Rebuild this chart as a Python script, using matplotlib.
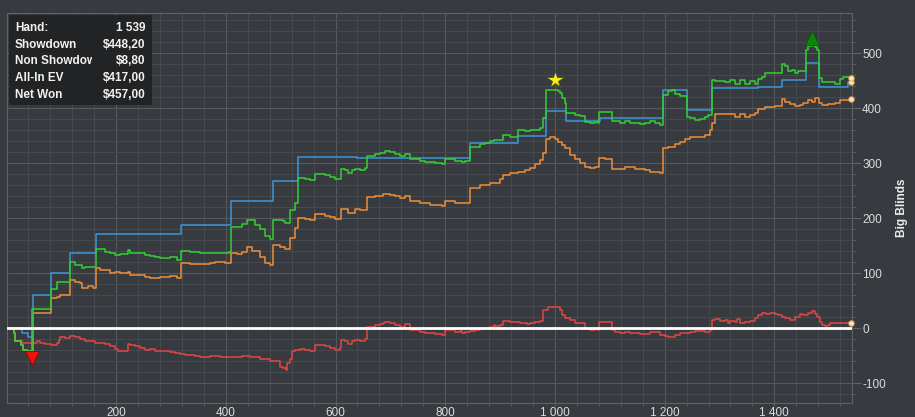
import matplotlib.pyplot as plt
import matplotlib.ticker as mticker
import matplotlib.transforms as mtransforms
from matplotlib.patches import Rectangle
import numpy as np

# cumulative results per hand (value holds until next hand)
net_won_hands = [0, 14, 16, 27, 31, 38, 47, 81, 92, 115, 125, 138, 143, 164, 171,
                 180, 189, 198, 207, 222, 226, 253, 262, 271, 280, 298, 311, 319,
                 335, 353, 380, 406, 410, 421, 430, 439, 453, 463, 472, 481, 486,
                 504, 508, 517, 526, 532, 545, 554, 563, 572, 581, 590, 599, 610,
                 618, 623, 630, 636, 645, 654, 658, 672, 681, 690, 700, 709, 718,
                 727, 736, 745, 754, 763, 773, 782, 794, 800, 818, 831, 836, 845,
                 864, 873, 882, 888, 900, 906, 918, 933, 946, 955, 964, 973, 979,
                 983, 991, 1000, 1006, 1010, 1013, 1019, 1020, 1028, 1037, 1046,
                 1055, 1064, 1073, 1079, 1081, 1092, 1104, 1119, 1128, 1137, 1146,
                 1155, 1164, 1174, 1183, 1192, 1197, 1206, 1214, 1219, 1228, 1240,
                 1247, 1256, 1265, 1274, 1279, 1287, 1292, 1310, 1319, 1329, 1338,
                 1347, 1356, 1365, 1370, 1378, 1383, 1392, 1414, 1420, 1425, 1433,
                 1438, 1444, 1458, 1462, 1469, 1474, 1478, 1481, 1487, 1493, 1502,
                 1511, 1520, 1525, 1539]
net_won_bb = [0, -8, -24, -30, -39, -42, 35, 71, 85, 121, 115, 110, 112, 145, 144,
              139, 136, 133, 135, 142, 136, 133, 131, 129, 127, 130, 125, 141,
              139, 136, 137, 139, 185, 184, 190, 196, 188, 180, 167, 162, 197,
              195, 191, 215, 227, 273, 272, 269, 281, 280, 278, 275, 272, 290,
              287, 282, 287, 290, 288, 291, 314, 317, 319, 323, 320, 317, 314,
              317, 308, 307, 305, 303, 302, 301, 299, 308, 305, 302, 305, 330,
              335, 337, 340, 342, 343, 351, 348, 360, 359, 360, 361, 364, 383,
              433, 434, 434, 432, 428, 419, 409, 392, 392, 387, 386,
              375, 374, 375, 373, 394, 393, 376, 374, 377, 373, 374,
              372, 373, 376, 373, 370, 424, 432, 433, 426, 423, 385,
              382, 379, 380, 384, 388, 451, 450, 448, 451, 444, 451,
              445, 450, 445, 453, 457, 464, 465, 481, 476, 467, 470,
              465, 468, 506, 513, 515, 512, 506, 455, 448, 447, 448,
              445, 453, 457, 455]

showdown_hands = [0, 29, 40, 48, 81, 115, 164, 319, 410, 486, 532, 640, 700, 845,
                  933, 983, 1020, 1082, 1197, 1240, 1287, 1370, 1414, 1458, 1481,
                  1535, 1539]
showdown_bb = [0, -8, -15, 60, 101, 137, 172, 187, 231, 268, 311, 309, 310, 337,
               350, 395, 377, 382, 433, 396, 436, 438, 451, 482, 439, 447, 447]

allin_ev_hands = [0, 14, 16, 27, 31, 38, 48, 81, 92, 98, 115, 125, 134, 138, 149,
                  158, 164, 171, 189, 198, 207, 222, 226, 253, 262, 280, 298, 311,
                  319, 335, 353, 371, 380, 399, 410, 421, 430, 439, 448, 463, 472,
                  481, 486, 499, 508, 517, 526, 532, 545, 554, 563, 572, 581, 590,
                  599, 610, 623, 636, 645, 658, 672, 687, 700, 709, 718, 727, 736,
                  754, 773, 794, 800, 818, 836, 845, 864, 882, 900, 906, 918, 933,
                  946, 955, 964, 973, 979, 984, 991, 1000, 1006, 1013, 1019, 1028,
                  1037, 1046, 1055, 1064, 1073, 1081, 1092, 1104, 1119, 1128, 1146,
                  1164, 1174, 1192, 1197, 1206, 1219, 1228, 1237, 1247, 1265, 1274,
                  1283, 1287, 1292, 1310, 1319, 1329, 1338, 1347, 1356, 1365, 1370,
                  1383, 1401, 1414, 1420, 1429, 1438, 1447, 1453, 1462, 1469, 1474,
                  1481, 1487, 1498, 1511, 1520, 1539]
allin_ev_bb = [0, -8, -24, -30, -39, -42, 27, 55, 57, 60, 88, 85, 82, 73, 76,
               73, 109, 106, 101, 103, 101, 103, 97, 94, 91, 93, 95, 91,
               118, 117, 117, 118, 120, 119, 136, 135, 139, 147, 141, 130, 119,
               115, 151, 148, 144, 164, 182, 200, 199, 196, 208, 207, 205, 202,
               199, 217, 210, 217, 215, 238, 241, 244, 243, 240, 237, 240, 231,
               228, 225, 222, 231, 228, 228, 255, 260, 265, 272, 279, 282, 285,
               288, 291, 298, 306, 318, 345, 348, 345, 339, 333, 327, 315,
               307, 300, 293, 291, 293, 309, 307, 289, 290, 293, 289,
               288, 285, 283, 327, 330, 335, 338, 345, 348, 348, 351,
               361, 373, 390, 389, 390, 385, 390, 384, 387, 392, 398,
               402, 404, 416, 412, 408, 404, 406, 410, 415, 412, 418,
               410, 406, 408, 409, 415, 416]

non_showdown_hands = [0, 14, 16, 29, 45, 55, 62, 71, 81, 92, 96, 98, 107, 116, 125,
                      134, 143, 149, 162, 171, 180, 189, 198, 204, 222, 226, 235,
                      244, 253, 262, 271, 289, 298, 308, 317, 326, 344, 353, 371,
                      390, 410, 430, 444, 463, 481, 486, 499, 504, 510, 512, 517,
                      521, 526, 535, 545, 554, 563, 572, 581, 590, 599, 608, 610,
                      618, 623, 630, 636, 645, 654, 658, 672, 681, 687, 690, 700,
                      709, 718, 727, 736, 745, 754, 763, 773, 782, 794, 800, 818,
                      827, 831, 836, 845, 855, 864, 873, 882, 888, 891, 900, 906,
                      918, 927, 937, 949, 955, 964, 973, 979, 988, 995, 1002, 1010,
                      1013, 1019, 1028, 1037, 1046, 1055, 1064, 1073, 1079, 1081,
                      1092, 1104, 1110, 1119, 1128, 1137, 1155, 1174, 1192, 1201,
                      1206, 1214, 1219, 1228, 1237, 1247, 1256, 1274, 1283, 1287,
                      1292, 1301, 1310, 1316, 1319, 1329, 1332, 1338, 1347, 1356,
                      1365, 1370, 1378, 1385, 1392, 1401, 1407, 1414, 1420, 1429,
                      1438, 1447, 1453, 1462, 1469, 1474, 1478, 1484, 1487, 1493,
                      1498, 1502, 1529, 1539]
non_showdown_bb = [0, -8, -24, -26, -27, -24, -27, -29, -30, -27, -21, -16, -18, -14,
                   -16, -20, -24, -23, -26, -27, -29, -33, -38, -42, -29, -30, -33,
                   -36, -39, -38, -41, -42, -44, -45, -47, -49, -50, -52, -51,
                   -53, -52, -50, -53, -56, -60, -59, -70, -73, -76, -64, -55,
                   -42, -39, -38, -39, -42, -30, -31, -33, -36, -39, -36, -21,
                   -24, -29, -24, -21, -23, -20, 3, 6, 8, 9, 12, 9,
                   6, 3, 8, -3, -4, -6, -8, -9, -10, -12, -3, -6,
                   -5, -9, -7, -5, -4, -2, 0, 3, 6, 5, 6, 14,
                   12, 12, 10, 8, 10, 12, 14, 33, 38, 39, 38, 33,
                   24, 18, 15, 10, 9, -2, -3, -2, -4, 12,
                   11, -4, -6, -8, -7, -9, -10, -6, -12, -14,
                   -16, -15, -12, -9, -8, -6, -5, -6, -4, 15,
                   16, 14, 15, 9, 13, 12, 16, 9, 11, 14,
                   18, 24, 27, 26, 27, 26, 24, 21, 18, 15,
                   20, 26, 25, 28, 32, 26, 21, 12, 6, 4,
                   6, 9, 10, 9]

info_labels = ["Hand:", "Showdown", "Non Showdown", "All-In EV", "Net Won"]
info_values = ["1 539", "$448,20", "$8,80", "$417,00", "$457,00"]

# hands flagged with markers on the net won line
worst_hand = 46
star_hand = 1000
best_hand = 1469

BG = "#373a3e"
TEXT = "#dcdcdc"


def step_value(hands, values, hand):
    """
    value of a step series at a given hand
    """
    idx = np.searchsorted(hands, hand, side="right") - 1
    return values[idx]


def thousands(value, pos):
    return f"{value:,.0f}".replace(",", " ")


def main():
    """
    main function
    """
    plt.rcParams["font.family"] = ["Liberation Sans", "DejaVu Sans"]
    plt.rcParams["axes.unicode_minus"] = False

    fig = plt.figure(figsize=(9.15, 4.17), dpi=100, facecolor=BG)
    ax = fig.add_axes([7 / 915, 13.7 / 417, 844.7 / 915, 390 / 417])
    ax.set_facecolor(BG)

    series = [
        (non_showdown_hands, non_showdown_bb, "#dd4646"),
        (allin_ev_hands, allin_ev_bb, "#e88b38"),
        (showdown_hands, showdown_bb, "#3d93d4"),
        (net_won_hands, net_won_bb, "#33cc33"),
    ]
    for hands, values, color in series:
        ax.step(hands, values, where="post", color=color, lw=1.15, zorder=3)
    ax.axhline(0, color="white", lw=2.0, zorder=4)
    for hands, values, color in series:
        ax.plot(hands[-1], values[-1], "o", ms=3.8, mfc="#fde6c0",
                mec="#eea85a", mew=0.8, zorder=6, clip_on=False)

    # markers sit a few pixels off the line
    def shifted(dy):
        return ax.transData + mtransforms.ScaledTranslation(0, dy, fig.dpi_scale_trans)

    ax.plot(worst_hand, step_value(net_won_hands, net_won_bb, worst_hand), "v",
            ms=10, mfc="#ee1111", mec="#990000", mew=0.6, zorder=7,
            transform=shifted(-0.065))
    ax.plot(star_hand, step_value(net_won_hands, net_won_bb, star_hand), "*",
            ms=13, mfc="#f8ee1c", mec="#4a4a30", mew=0.6, zorder=7,
            transform=shifted(0.095))
    ax.plot(best_hand, step_value(net_won_hands, net_won_bb, best_hand), "^",
            ms=10, mfc="#0b870b", mec="#075a07", mew=0.6, zorder=7,
            transform=shifted(0.07))

    ax.set_xlim(1, 1541)
    ax.set_ylim(-136.4, 572.7)

    ax.xaxis.set_major_locator(mticker.FixedLocator(range(200, 1600, 200)))
    ax.xaxis.set_minor_locator(mticker.MultipleLocator(40))
    ax.xaxis.set_major_formatter(mticker.FuncFormatter(thousands))
    ax.yaxis.set_major_locator(mticker.MultipleLocator(100))
    ax.yaxis.set_minor_locator(mticker.MultipleLocator(20))
    ax.yaxis.tick_right()

    ax.set_axisbelow(True)
    ax.grid(which="major", color="#56595d", lw=0.8)
    ax.grid(which="minor", color="#46494d", lw=0.8)

    ax.tick_params(axis="x", which="both", length=2.5, color="#5f6266",
                   labelcolor=TEXT, labelsize=8.5, pad=0)
    ax.tick_params(axis="y", which="major", length=6.5, color="#5f6266",
                   labelcolor=TEXT, labelsize=8.5, pad=1)
    ax.tick_params(axis="y", which="minor", length=3, color="#5f6266")
    for spine in ax.spines.values():
        spine.set_color("#5f6266")

    fig.text(901.7 / 915, 1 - 207.5 / 417, "Big Blinds", rotation=90,
             ha="center", va="center", color="#ececec", fontsize=8.5,
             fontweight="bold")

    # summary box in the corner; the long label is cut at the value column
    ax.add_patch(Rectangle((0.0027, 0.765), 0.1686, 0.2306, transform=ax.transAxes,
                           facecolor="#1e1f21", alpha=0.85, lw=0, zorder=8))
    label_clip = mtransforms.TransformedBbox(
        mtransforms.Bbox.from_bounds(0, 0, 0.1006, 1), ax.transAxes)
    for i, (label, value) in enumerate(zip(info_labels, info_values)):
        y = 0.9623 - i * 0.0429
        t = ax.text(0.0095, y, label, transform=ax.transAxes, ha="left",
                    va="center", color="#f2f2f2", fontsize=8.5,
                    fontweight="bold", zorder=9)
        t.set_clip_path(None)
        t.set_clip_box(label_clip)
        t.set_clip_on(True)
        ax.text(0.1642, y, value, transform=ax.transAxes, ha="right",
                va="center", color="#f2f2f2", fontsize=8.5, fontweight="bold",
                zorder=9)

    fig.savefig("out.png", dpi=100, facecolor=BG)


if __name__ == '__main__':
    main()
